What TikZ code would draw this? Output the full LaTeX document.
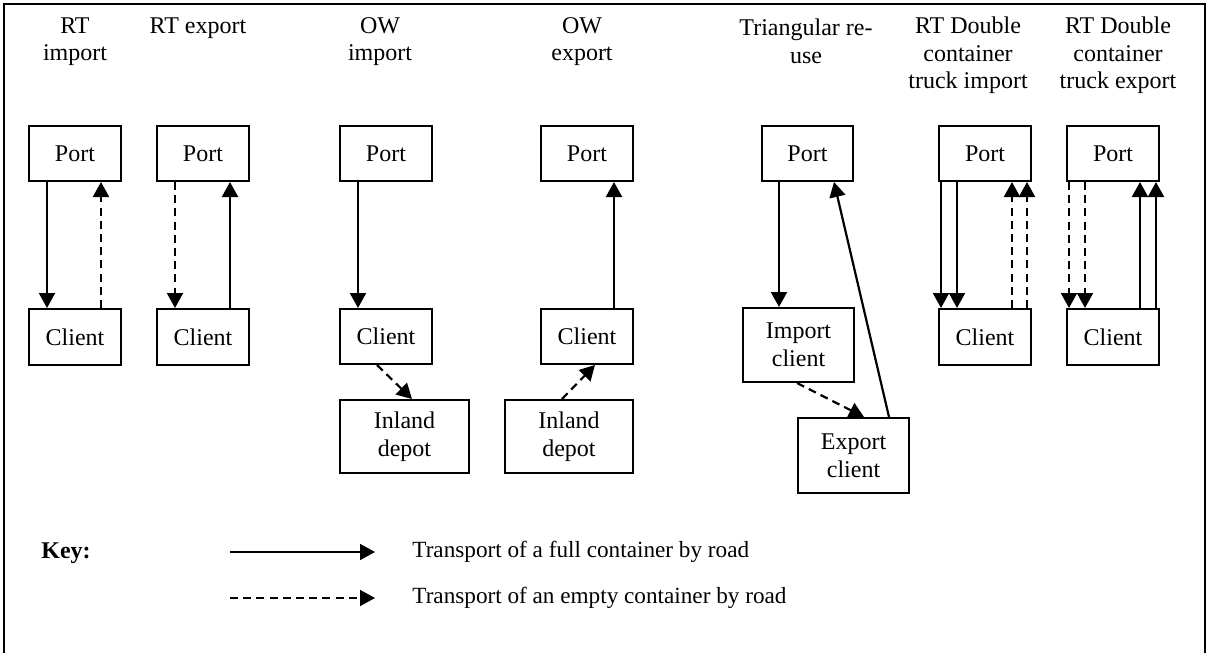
\documentclass[tikz,border=0pt]{standalone}
\usepackage{fontspec}
\setmainfont{Liberation Serif}
\usetikzlibrary{arrows.meta}
\begin{document}
\begin{tikzpicture}[x=0.5pt,y=-0.5pt,
  box/.style={draw,line width=1pt,inner sep=0pt,align=center,font=\fontsize{12}{13.8}\selectfont},
  title/.style={inner sep=0pt,align=center,font=\fontsize{12}{13.8}\selectfont},
  keytext/.style={inner sep=0pt,align=left,font=\fontsize{11.6}{13.8}\selectfont},
  full/.style={line width=1.1pt,-{Triangle[length=7.5pt,width=8pt]}},
  empty/.style={line width=1.1pt,dash pattern=on 4pt off 2.6pt,-{Triangle[length=7.5pt,width=8pt]}}]
\useasboundingbox (0,0) rectangle (1207,653);
\clip (0,0) rectangle (1207,653);
\draw[line width=0.8pt] (4,4) rectangle (1205,700);

% titles
\node[title] (t1) at (75,41.5) {RT\\import};
\node[title] (t2) at (198,28) {RT export};
\node[title] (t3) at (380,41.5) {OW\\import};
\node[title] (t4) at (582,41.5) {OW\\export};
\node[title] (t5) at (806,41.5) {Triangular re-\\use};
\node[title] (t6) at (968,55.5) {RT Double\\container\\truck import};
\node[title] (t7) at (1118,55.5) {RT Double\\container\\truck export};

% RT import
\node[box,minimum width=46pt,minimum height=27.5pt] (p1) at (75,153.5) {Port};
\node[box,minimum width=46pt,minimum height=28pt] (c1) at (75,337) {Client};
\draw[full] ([xshift=9.5pt]p1.south west) -- ([xshift=9.5pt]c1.north west);
\draw[empty] ([xshift=36.5pt]c1.north west) -- ([xshift=36.5pt]p1.south west);

% RT export
\node[box,minimum width=46pt,minimum height=27.5pt] (p2) at (203,153.5) {Port};
\node[box,minimum width=46pt,minimum height=28pt] (c2) at (203,337) {Client};
\draw[empty] ([xshift=9.5pt]p2.south west) -- ([xshift=9.5pt]c2.north west);
\draw[full] ([xshift=37pt]c2.north west) -- ([xshift=37pt]p2.south west);

% OW import
\node[box,minimum width=46pt,minimum height=27.5pt] (p3) at (386,153.5) {Port};
\node[box,minimum width=46pt,minimum height=27.5pt] (c3) at (386,336.5) {Client};
\node[box,minimum width=64.5pt,minimum height=36.5pt] (d3) at (404.5,436.5) {Inland\\depot};
\draw[full] ([xshift=9.5pt]p3.south west) -- ([xshift=9.5pt]c3.north west);
\draw[empty] ([xshift=19pt]c3.south west) -- ([xshift=36.5pt]d3.north west);

% OW export
\node[box,minimum width=46pt,minimum height=27.5pt] (p4) at (587,153.5) {Port};
\node[box,minimum width=46pt,minimum height=27.5pt] (c4) at (587,336.5) {Client};
\node[box,minimum width=64pt,minimum height=36.5pt] (d4) at (569,436.5) {Inland\\depot};
\draw[full] ([xshift=37pt]c4.north west) -- ([xshift=37pt]p4.south west);
\draw[empty] ([xshift=29pt]d4.north west) -- ([xshift=27.5pt]c4.south west);

% Triangular re-use
\node[box,minimum width=45.5pt,minimum height=27.5pt] (p5) at (807.5,153.5) {Port};
\node[box,minimum width=55.5pt,minimum height=37pt] (ic) at (798.5,345) {Import\\client};
\node[box,minimum width=55.5pt,minimum height=37.5pt] (ec) at (853.5,455.5) {Export\\client};
\draw[full] ([xshift=9pt]p5.south west) -- ([xshift=18.5pt]ic.north west);
\draw[empty] ([xshift=27.5pt]ic.south west) -- ([xshift=33.5pt]ec.north west);
\draw[full] ([xshift=46pt]ec.north west) -- ([xshift=36.5pt]p5.south west);

% RT Double import
\node[box,minimum width=46pt,minimum height=27.5pt] (p6) at (985,153.5) {Port};
\node[box,minimum width=46pt,minimum height=28pt] (c6) at (985,337) {Client};
\draw[full] ([xshift=1.5pt]p6.south west) -- ([xshift=1.5pt]c6.north west);
\draw[full] ([xshift=9.5pt]p6.south west) -- ([xshift=9.5pt]c6.north west);
\draw[empty] ([xshift=37pt]c6.north west) -- ([xshift=37pt]p6.south west);
\draw[empty] ([xshift=44.5pt]c6.north west) -- ([xshift=44.5pt]p6.south west);

% RT Double export
\node[box,minimum width=46pt,minimum height=27.5pt] (p7) at (1113,153.5) {Port};
\node[box,minimum width=46pt,minimum height=28pt] (c7) at (1113,337) {Client};
\draw[empty] ([xshift=1.5pt]p7.south west) -- ([xshift=1.5pt]c7.north west);
\draw[empty] ([xshift=9.5pt]p7.south west) -- ([xshift=9.5pt]c7.north west);
\draw[full] ([xshift=37pt]c7.north west) -- ([xshift=37pt]p7.south west);
\draw[full] ([xshift=45pt]c7.north west) -- ([xshift=45pt]p7.south west);

% Key
\node[title,font=\fontsize{12}{13.8}\selectfont\bfseries] (key) at (66,553) {Key:};
\coordinate (k1a) at (230,552);
\coordinate (k1b) at (375,552);
\coordinate (k2a) at (230,598);
\coordinate (k2b) at (375,598);
\draw[full,line width=0.9pt] (k1a) -- (k1b);
\draw[empty,line width=0.9pt] (k2a) -- (k2b);
\node[keytext,anchor=west] (l1) at (412,552) {Transport of a full container by road};
\node[keytext,anchor=west] (l2) at (412,598) {Transport of an empty container by road};
\end{tikzpicture}
\end{document}
